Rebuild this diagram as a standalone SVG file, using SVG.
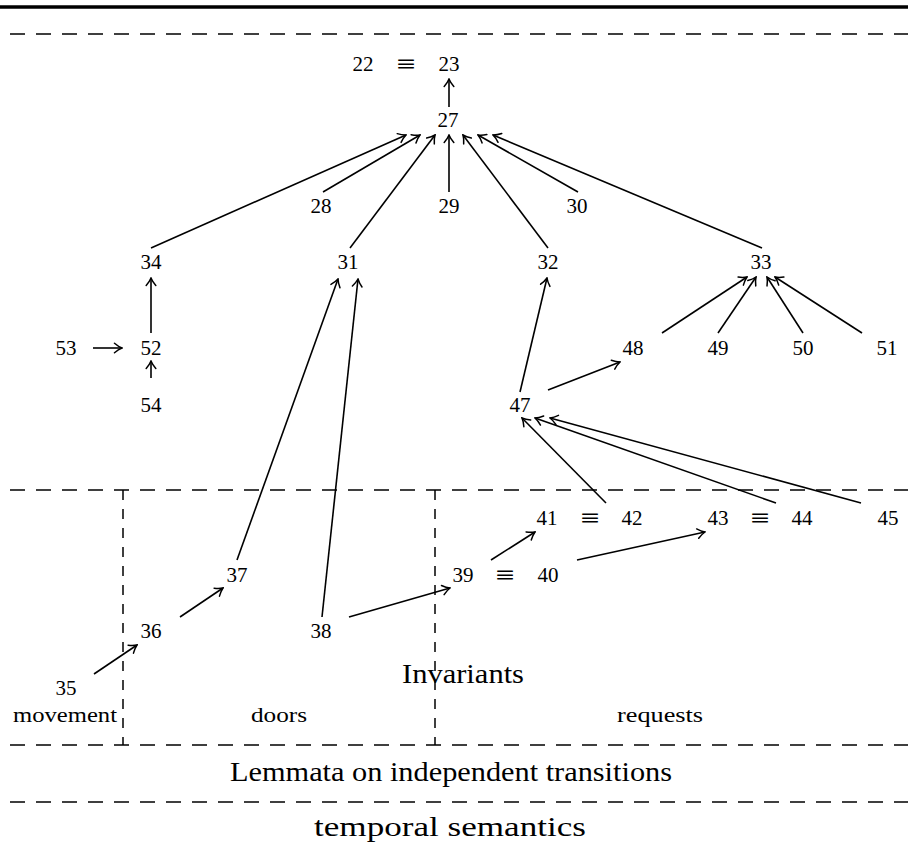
<svg xmlns="http://www.w3.org/2000/svg" width="908" height="857" viewBox="0 0 908 857">
  <style>
    text { font-family: "Liberation Serif", "Times New Roman", serif; fill: #000; }
    .n { font-size: 21px; text-anchor: middle; }
    .eq { font-size: 27px; text-anchor: middle; }
    .lab { font-size: 20px; text-anchor: middle; }
    .big { font-size: 27px; text-anchor: middle; }
    .rule { stroke: #000; stroke-width: 1.5; fill: none; stroke-dasharray: 15 11; }
    .vrule { stroke: #000; stroke-width: 1.5; fill: none; stroke-dasharray: 10 9; }
    .edge { stroke: #000; stroke-width: 1.6; fill: none; marker-end: url(#arr); }
  </style>
  <defs>
    <marker id="arr" markerUnits="userSpaceOnUse" viewBox="-9 -6 10 12" refX="0" refY="0" markerWidth="10" markerHeight="12" orient="auto">
      <path d="M-7.5,-4.8 C-4.5,-2.2 -2,-0.8 0,0 C-2,0.8 -4.5,2.2 -7.5,4.8" stroke="#000" stroke-width="1.5" fill="none" stroke-linecap="round"/>
    </marker>
  </defs>

  <rect width="908" height="857" fill="#fff"/>

  <!-- frame: heavy top rule and dashed layer separators -->
  <g id="frame">
    <line x1="0" y1="7" x2="908" y2="7" stroke="#000" stroke-width="3.5"/>
    <line class="rule" x1="10" y1="34" x2="908" y2="34"/>
    <line class="rule" x1="10" y1="490" x2="908" y2="490"/>
    <line class="rule" x1="10" y1="745" x2="908" y2="745"/>
    <line class="rule" x1="10" y1="802" x2="908" y2="802"/>
    <line class="vrule" x1="123" y1="490" x2="123" y2="745"/>
    <line class="vrule" x1="435" y1="490" x2="435" y2="745"/>
  </g>

  <!-- dependency arrows -->
  <g id="connectors">
    <line class="edge" x1="449" y1="107" x2="449" y2="79"/>
    <line class="edge" x1="151" y1="248" x2="406" y2="135"/>
    <line class="edge" x1="323" y1="192" x2="420" y2="135"/>
    <line class="edge" x1="350" y1="248" x2="435" y2="135"/>
    <line class="edge" x1="449" y1="192" x2="449" y2="135"/>
    <line class="edge" x1="548" y1="248" x2="463" y2="135"/>
    <line class="edge" x1="578" y1="192" x2="478" y2="135"/>
    <line class="edge" x1="762" y1="248" x2="493" y2="135"/>
    <line class="edge" x1="151" y1="333" x2="151" y2="278"/>
    <line class="edge" x1="93" y1="348" x2="122" y2="348"/>
    <line class="edge" x1="151" y1="378" x2="151" y2="361"/>
    <line class="edge" x1="237" y1="560" x2="338" y2="279"/>
    <line class="edge" x1="322" y1="617" x2="358" y2="279"/>
    <line class="edge" x1="520" y1="392" x2="547" y2="278"/>
    <line class="edge" x1="548" y1="390" x2="620" y2="362"/>
    <line class="edge" x1="662" y1="333" x2="747" y2="277"/>
    <line class="edge" x1="718" y1="333" x2="756" y2="277"/>
    <line class="edge" x1="803" y1="333" x2="767" y2="277"/>
    <line class="edge" x1="862" y1="333" x2="775" y2="277"/>
    <line class="edge" x1="606" y1="503" x2="522" y2="418"/>
    <line class="edge" x1="776" y1="503" x2="535" y2="418"/>
    <line class="edge" x1="861" y1="503" x2="550" y2="418"/>
    <line class="edge" x1="94" y1="674" x2="137" y2="645"/>
    <line class="edge" x1="180" y1="617" x2="223" y2="588"/>
    <line class="edge" x1="349" y1="617" x2="450" y2="588"/>
    <line class="edge" x1="491" y1="560" x2="535" y2="532"/>
    <line class="edge" x1="577" y1="560" x2="705" y2="532"/>
  </g>

  <!-- nodes -->
  <g id="n22-23"><text class="n" x="363" y="71">22</text><text class="eq" x="406" y="73" textLength="19" lengthAdjust="spacingAndGlyphs">≡</text><text class="n" x="449" y="71">23</text></g>
  <g id="n27"><text class="n" x="448" y="127">27</text></g>
  <g id="n28"><text class="n" x="321" y="213">28</text></g>
  <g id="n29"><text class="n" x="449" y="213">29</text></g>
  <g id="n30"><text class="n" x="577" y="213">30</text></g>
  <g id="n34"><text class="n" x="151" y="269">34</text></g>
  <g id="n31"><text class="n" x="348" y="269">31</text></g>
  <g id="n32"><text class="n" x="548" y="269">32</text></g>
  <g id="n33"><text class="n" x="761" y="269">33</text></g>
  <g id="n53"><text class="n" x="66" y="355">53</text></g>
  <g id="n52"><text class="n" x="151" y="355">52</text></g>
  <g id="n48"><text class="n" x="633" y="355">48</text></g>
  <g id="n49"><text class="n" x="718" y="355">49</text></g>
  <g id="n50"><text class="n" x="803" y="355">50</text></g>
  <g id="n51"><text class="n" x="887" y="355">51</text></g>
  <g id="n54"><text class="n" x="151" y="412">54</text></g>
  <g id="n47"><text class="n" x="520" y="412">47</text></g>
  <g id="n41-42"><text class="n" x="547" y="525">41</text><text class="eq" x="590" y="527" textLength="19" lengthAdjust="spacingAndGlyphs">≡</text><text class="n" x="632" y="525">42</text></g>
  <g id="n43-44"><text class="n" x="718" y="525">43</text><text class="eq" x="760" y="527" textLength="19" lengthAdjust="spacingAndGlyphs">≡</text><text class="n" x="802" y="525">44</text></g>
  <g id="n45"><text class="n" x="888" y="525">45</text></g>
  <g id="n37"><text class="n" x="237" y="582">37</text></g>
  <g id="n39-40"><text class="n" x="463" y="582">39</text><text class="eq" x="505" y="584" textLength="19" lengthAdjust="spacingAndGlyphs">≡</text><text class="n" x="548" y="582">40</text></g>
  <g id="n36"><text class="n" x="151" y="638">36</text></g>
  <g id="n38"><text class="n" x="321" y="638">38</text></g>
  <g id="n35"><text class="n" x="66" y="695">35</text></g>

  <!-- region and layer labels -->
  <g id="labels">
    <text class="lab" x="65" y="722" textLength="104" lengthAdjust="spacingAndGlyphs">movement</text>
    <text class="lab" x="279" y="722" textLength="56" lengthAdjust="spacingAndGlyphs">doors</text>
    <text class="lab" x="660" y="722" textLength="86" lengthAdjust="spacingAndGlyphs">requests</text>
    <text class="big" x="463" y="683" textLength="122" lengthAdjust="spacingAndGlyphs">Invariants</text>
    <text class="big" x="451" y="781" textLength="442" lengthAdjust="spacingAndGlyphs">Lemmata on independent transitions</text>
    <text class="big" x="450" y="836" textLength="272" lengthAdjust="spacingAndGlyphs">temporal semantics</text>
  </g>
</svg>
